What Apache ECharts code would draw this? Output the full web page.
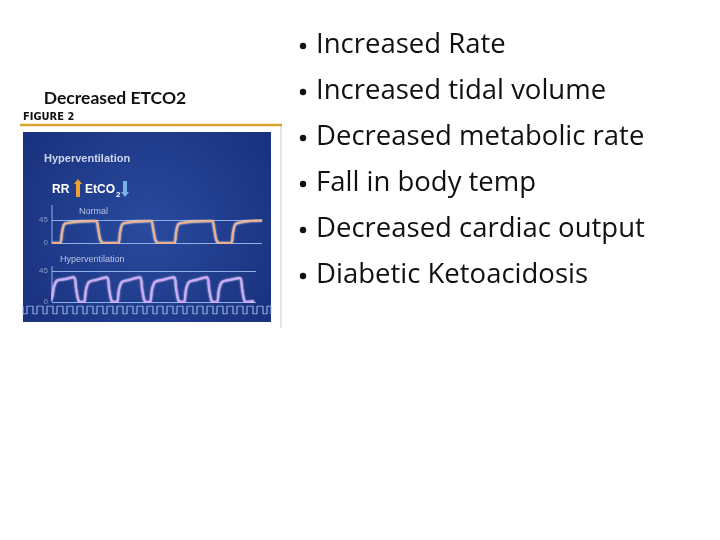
<!DOCTYPE html>
<html>
<head>
<meta charset="UTF-8">
<title>Decreased ETCO2</title>
<script src="https://cdn.jsdelivr.net/npm/echarts@6/dist/echarts.min.js"></script>
<style>html,body{margin:0;background:#fff}#main{width:720px;height:540px}</style>
</head>
<body>
<div id="main"></div>
<script>
var bullets = ['Increased Rate', 'Increased tidal volume', 'Decreased metabolic rate',
    'Fall in body temp', 'Decreased cardiac output', 'Diabetic Ketoacidosis'];

// normal capnogram (time, mmHg)
var normalWave = [[52,0],[60,0],[62,20],[64,36],[67,39],[80,42],[96,43],[98,30],[100,8],[102,1],[105,0],
    [118,0],[120,20],[122,36],[125,39],[138,42],[151,43],[153,30],[155,8],[157,1],[160,0],
    [174,0],[176,20],[178,36],[181,39],[195,42],[212,43],[214,30],[216,8],[218,1],[221,0],
    [231,0],[233,20],[235,36],[238,39],[250,43],[262,44]];

// hyperventilation capnogram
var hyperWave = [[50,3],[52,6],[54,22],[57,31],[64,33],[74,36],[76,20],[78,4],[80,0],[84,0],
    [86,18],[89,29],[96,32],[107,36],[109,20],[111,4],[113,0],[117,0],
    [119,18],[122,29],[129,32],[140,36],[142,20],[144,4],[146,0],[150,0],
    [152,18],[155,29],[162,32],[174,36],[176,20],[178,4],[180,0],[184,0],
    [186,18],[189,29],[196,32],[207,36],[209,20],[211,4],[213,0],[217,0],
    [219,18],[222,29],[229,32],[240,35],[242,20],[244,4],[246,0],[254,1]];

// breathing trace edges along bottom
var breathEdges = [23,27,33,37,43,47,53,57,63,67,73,77,83,87,93,97,103,107,113,117,123,127,
    133,137,143,147,153,157,163,167,173,177,183,187,193,197,203,207,213,217,223,227,233,237,
    243,247,253,257,263,267,271];

var breath = [];
breathEdges.forEach(function (x, i) {
    var lvl = i % 2 === 0 ? 0 : 1;
    breath.push([x, 1 - lvl], [x, lvl]);
});

var chart = echarts.init(document.getElementById('main'));
var font = '"Open Sans", sans-serif';
var lineCol = '#8fb0e8';

var graphic = [
    {type: 'rect', shape: {x: 23, y: 132, width: 248, height: 190},
        style: {fill: new echarts.graphic.RadialGradient(0.5, 0.5, 0.75,
            [{offset: 0, color: '#2a4a9e'}, {offset: 1, color: '#1a3380'}])}, z: 0},
    {type: 'line', shape: {x1: 20, y1: 125, x2: 282, y2: 125}, style: {stroke: '#d9a72e', lineWidth: 2.5}},
    {type: 'line', shape: {x1: 281, y1: 126, x2: 281, y2: 328}, style: {stroke: '#c8c8c8', lineWidth: 1}},
    {type: 'text', x: 115, y: 98, style: {text: 'Decreased ETCO2', font: 'bold 17.5px Lato, sans-serif', fill: '#111',
        align: 'center', verticalAlign: 'middle'}},
    {type: 'text', x: 23, y: 117, style: {text: 'FIGURE 2', font: 'bold 11px "DejaVu Sans Condensed", sans-serif',
        fill: '#111', verticalAlign: 'middle'}},
    {type: 'text', x: 44, y: 159, z: 5, style: {text: 'Hyperventilation', font: 'bold 11px "Liberation Sans", sans-serif',
        fill: '#cfd6ee', verticalAlign: 'middle'}},
    {type: 'text', x: 52, y: 190, z: 5, style: {text: 'RR', font: 'bold 12px "Liberation Sans", sans-serif',
        fill: '#ffffff', verticalAlign: 'middle'}},
    {type: 'polygon', z: 5, shape: {points: [[74, 184], [78, 179], [82, 184], [80, 184], [80, 197], [76, 197], [76, 184]]},
        style: {fill: '#f0a030'}},
    {type: 'text', x: 85, y: 190, z: 5, style: {text: 'EtCO', font: 'bold 12px "Liberation Sans", sans-serif',
        fill: '#ffffff', verticalAlign: 'middle'}},
    {type: 'text', x: 116, y: 195, z: 5, style: {text: '2', font: 'bold 8px "Liberation Sans", sans-serif',
        fill: '#ffffff', verticalAlign: 'middle'}},
    {type: 'polygon', z: 5, shape: {points: [[123, 181], [127, 181], [127, 192], [129, 192], [125, 197], [121, 192], [123, 192]]},
        style: {fill: '#7ab0e8'}},
    {type: 'text', x: 79, y: 212, z: 5, style: {text: 'Normal', font: '9px "Liberation Sans", sans-serif',
        fill: '#b8c4e4', verticalAlign: 'middle'}},
    {type: 'text', x: 60, y: 260, z: 5, style: {text: 'Hyperventilation', font: '9px "Liberation Sans", sans-serif',
        fill: '#b8c4e4', verticalAlign: 'middle'}},
    {type: 'line', z: 5, shape: {x1: 52, y1: 205, x2: 52, y2: 243}, style: {stroke: lineCol, lineWidth: 1}},
    {type: 'line', z: 5, shape: {x1: 52, y1: 266, x2: 52, y2: 302}, style: {stroke: lineCol, lineWidth: 1}}
];

bullets.forEach(function (b, i) {
    var y = 45 + i * 46;
    graphic.push({type: 'circle', shape: {cx: 303, cy: y + 1, r: 3.2}, style: {fill: '#111'}});
    graphic.push({type: 'text', x: 316, y: y, style: {text: b, font: '27.5px ' + font, fill: '#111', verticalAlign: 'middle'}});
});

function yAx(idx, max) {
    return {gridIndex: idx, type: 'value', min: 0, max: max, interval: max,
        axisLine: {show: false}, axisTick: {show: false},
        axisLabel: {show: idx < 2, color: '#8c9cc8', fontSize: 8, margin: 4},
        splitLine: {show: idx < 2, lineStyle: {color: lineCol, width: 1}}};
}
function xAx(idx, min, max) {
    return {gridIndex: idx, type: 'value', min: min, max: max, show: false};
}

chart.setOption({
    animation: false,
    graphic: graphic,
    grid: [
        {left: 52, right: 458, top: 220, height: 23},
        {left: 52, right: 464, top: 271, height: 31},
        {left: 23, right: 449, top: 306, height: 8}
    ],
    xAxis: [xAx(0, 52, 262), xAx(1, 52, 256), xAx(2, 23, 271)],
    yAxis: [yAx(0, 45), yAx(1, 45), yAx(2, 1)],
    series: [
        {type: 'line', xAxisIndex: 0, yAxisIndex: 0, data: normalWave, symbol: 'none', smooth: 0.3,
            lineStyle: {color: '#f0b08a', width: 2, shadowColor: '#ffffff', shadowBlur: 2}, z: 6},
        {type: 'line', xAxisIndex: 1, yAxisIndex: 1, data: hyperWave, symbol: 'none', smooth: 0.3,
            lineStyle: {color: '#d2a8ff', width: 2, shadowColor: '#ffffff', shadowBlur: 2}, z: 6},
        {type: 'line', xAxisIndex: 2, yAxisIndex: 2, data: breath, symbol: 'none',
            lineStyle: {color: '#a8c0f0', width: 1}, z: 6}
    ]
});
</script>
</body>
</html>
